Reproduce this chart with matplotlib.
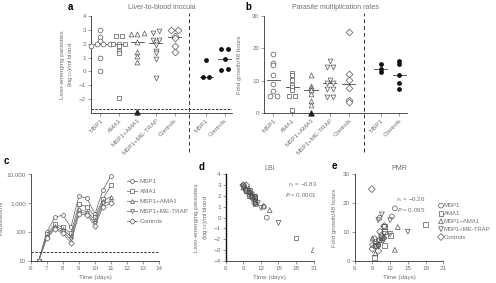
import numpy as np
import matplotlib
matplotlib.use('Agg')
import matplotlib.pyplot as plt

# ---- data -------------------------------------------------------------
groups = ['MSP1', 'AMA1', 'MSP1+AMA1', 'MSP1+ME-TRAP', 'Controls']
inf_groups = ['MSP1', 'Controls']
markers = ['o', 's', '^', 'v', 'D']

# panel a: liver-to-blood inocula (log10 parasites/ml)
lbi = [
    [3.0, 2.45, 2.2, 2.0, 2.0, 1.95, 1.85, 1.0, 0.0],
    [2.55, 2.55, 2.0, 2.0, 1.95, 1.8, 1.5, 1.3, -1.9],
    [2.8, 2.7, 2.7, 2.1, 1.4, 1.1, 0.7],
    [2.9, 2.8, 2.3, 2.3, 2.15, 1.9, 1.5, 1.35, 0.9, -0.5],
    [3.0, 3.0, 2.55, 2.4, 1.85, 1.4],
]
lbi_below = [[], [], [-2.95], [], []]   # below detection limit
lbi_inf = [[0.8, -0.4, -0.4], [1.65, 1.65, 0.9, 0.2, 0.1]]
lbi_limit = -2.7

# panel b: parasite multiplication rates (fold growth / 48 h)
pmr = [
    [18.2, 15.4, 14.9, 11.8, 8.9, 6.7, 5.4, 5.4],
    [12.5, 11.8, 10.3, 8.7, 8.0, 7.2, 5.4, 5.4, 1.0],
    [11.7, 8.4, 7.7, 7.2, 5.9, 3.8, 2.5],
    [16.1, 14.1, 14.1, 10.1, 9.3, 9.3, 7.4, 7.4, 4.9, 4.9],
    [24.9, 12.1, 10.1, 7.6, 4.1, 3.4],
]
pmr_below = [[], [], [0.0], [], []]
pmr_inf = [[15.2, 13.7, 12.8], [16.1, 15.1, 11.7, 9.2, 7.4]]

# panel c: mean parasitaemia by group
days = [6.5, 7, 7.5, 8, 8.5, 9, 9.5, 10, 10.5, 11]
para = [
    [10, 100, 320, 390, 145, 1800, 1500, 420, 3000, 8900],
    [10, 85, 185, 145, 90, 920, 760, 340, 1400, 4400],
    [10, 75, 155, 125, 70, 610, 510, 260, 1200, 1700],
    [10, 65, 135, 105, 55, 470, 450, 200, 1000, 1150],
    [10, 60, 125, 90, 42, 410, 390, 160, 760, 1000],
]
para_limit = 20

# panel d: time to diagnosis vs LBI
lbi_days = [
    [9.0, 9.5, 10.0, 10.5, 10.5, 11.0, 11.0, 12.5, 13.0],
    [9.5, 10.0, 10.0, 10.5, 10.5, 11.0, 11.0, 11.0, 18.0],
    [9.0, 9.5, 10.0, 10.5, 11.0, 12.5, 13.5],
    [9.0, 9.0, 10.0, 10.0, 10.5, 11.0, 11.0, 11.5, 12.0, 15.0],
    [9.0, 9.5, 9.5, 10.0, 10.5, 11.0],
]
lbi_below_days = [[], [], [21.0], [], []]
lbi_below_val = -3.0

# panel e: time to diagnosis vs PMR
pmr_days = [
    [12.8, 12.3, 10.2, 11.0, 10.5, 9.5, 9.0, 10.0],
    [18.0, 11.0, 11.0, 12.0, 10.5, 10.0, 9.5, 11.0, 9.3],
    [13.3, 11.0, 9.0, 10.5, 10.0, 12.8, 9.5],
    [10.6, 10.0, 12.0, 15.0, 11.0, 12.0, 10.5, 11.0, 9.5, 10.0],
    [8.9, 11.0, 10.3, 9.4, 9.0, 10.0],
]

# ---- style ------------------------------------------------------------
TXT = '#707070'
EDGE = '#555555'
MS = 12
plt.rcParams['font.family'] = ['Liberation Sans', 'DejaVu Sans']
plt.rcParams['font.size'] = 4.5
plt.rcParams['axes.linewidth'] = 0.6
plt.rcParams['axes.edgecolor'] = '#333333'


def style(ax):
    for s in ('top', 'right'):
        ax.spines[s].set_visible(False)
    ax.tick_params(length=2, width=0.5, labelsize=4.5, colors=TXT, pad=1.5)
    ax.tick_params(axis='both', which='minor', length=0)
    for lbl in ax.get_xticklabels() + ax.get_yticklabels():
        lbl.set_color(TXT)


def spread(vals, tol, step):
    vals = np.asarray(vals, dtype=float)
    order = np.argsort(vals)
    off = np.zeros(len(vals))
    i = 0
    while i < len(order):
        j = i
        while j + 1 < len(order) and vals[order[j + 1]] - vals[order[j]] < tol:
            j += 1
        n = j - i + 1
        off[order[i:j + 1]] = (np.arange(n) - (n - 1) / 2) * step
        i = j + 1
    return off


def dot_panel(ax, data, below, inf, tol):
    pos = [0, 1, 2, 3, 4]
    inf_pos = [5.7, 6.7]
    for k, vals in enumerate(data):
        x = pos[k] + spread(vals, tol, 0.34)
        ax.scatter(x, vals, marker=markers[k], s=MS, facecolors='white',
                   edgecolors=EDGE, linewidths=0.5, zorder=3, clip_on=False)
        if below[k]:
            ax.scatter([pos[k]] * len(below[k]), below[k], marker=markers[k], s=MS,
                       color='#222222', zorder=3, clip_on=False)
        med = np.median(vals)
        ax.plot([pos[k] - 0.35, pos[k] + 0.35], [med, med], color='#444444', lw=0.6, zorder=2)
    for k, vals in enumerate(inf):
        x = inf_pos[k] + spread(vals, tol, 0.34)
        ax.scatter(x, vals, marker='o', s=6, color='#111111', zorder=3)
        med = np.median(vals)
        ax.plot([inf_pos[k] - 0.35, inf_pos[k] + 0.35], [med, med], color='#444444', lw=0.6, zorder=2)
    ax.set_xlim(-0.5, 7.1)
    ax.set_xticks(pos + inf_pos)
    ax.set_xticklabels(groups + inf_groups, rotation=45, ha='right', rotation_mode='anchor')
    ax.axvline(4.8, ymin=-0.4, ymax=1.03, color='#333333', lw=0.7, ls=(0, (4, 3)), clip_on=False)


fig = plt.figure(figsize=(4.96, 2.83), dpi=100)

# ---- a ----------------------------------------------------------------
ax = fig.add_axes([0.1835, 0.6007, 0.2843, 0.3428])
dot_panel(ax, lbi, lbi_below, lbi_inf, 0.12)
ax.set_ylim(-3, 4)
ax.set_yticks(range(-2, 5))
ax.axhline(lbi_limit, color='#333333', lw=0.7, ls=(0, (2.5, 1.5)))
ax.set_ylabel('Liver-emerging parasites\n(log$_{10}$)/ml blood', color=TXT, fontsize=4.5, labelpad=3)
ax.set_title('Liver-to-blood inocula', color=TXT, fontsize=5, pad=5)
style(ax)
fig.text(68 / 496, 1 - 10 / 283, 'a', fontsize=7, fontweight='bold')

# ---- b ----------------------------------------------------------------
ax = fig.add_axes([0.5323, 0.6007, 0.2883, 0.3428])
dot_panel(ax, pmr, pmr_below, pmr_inf, 0.5)
ax.set_ylim(0, 30)
ax.set_yticks([0, 10, 20, 30])
ax.set_ylabel('Fold growth/48 hours', color=TXT, fontsize=4.5, labelpad=7)
ax.set_title('Parasite multiplication rates', color=TXT, fontsize=5, pad=5)
style(ax)
fig.text(245 / 496, 1 - 10 / 283, 'b', fontsize=7, fontweight='bold')

# ---- c ----------------------------------------------------------------
ax = fig.add_axes([0.0619, 0.0788, 0.2593, 0.3046])
for k, g in enumerate(groups):
    ax.plot(days, para[k], color='#777777', lw=0.6, marker=markers[k], ms=2.8,
            mfc='white', mec='#555555', mew=0.5, label=g)
ax.set_yscale('log')
ax.set_ylim(10, 10000)
ax.set_xlim(6, 14)
ax.set_xticks(range(6, 15))
ax.set_yticks([10, 100, 1000, 10000])
ax.set_yticklabels(['10', '100', '1,000', '10,000'])
ax.axhline(para_limit, color='#333333', lw=0.7, ls=(0, (2.5, 1.5)))
ax.set_ylabel('Parasites/ml', color=TXT, fontsize=4.5, labelpad=2)
ax.set_xlabel('Time (days)', color=TXT, fontsize=4.5, labelpad=3)
style(ax)
leg = ax.legend(loc='upper left', bbox_to_anchor=(0.73, 0.98), frameon=False, fontsize=4.5,
                handlelength=1.6, handletextpad=0.4, labelspacing=0.75, borderaxespad=0)
for t in leg.get_texts():
    t.set_color(TXT)
fig.text(4 / 496, 1 - 164 / 283, 'c', fontsize=7, fontweight='bold')

# ---- d ----------------------------------------------------------------
ax = fig.add_axes([0.4550, 0.0788, 0.1774, 0.3046])
for k, g in enumerate(groups):
    ax.scatter(lbi_days[k], lbi[k], marker=markers[k], s=MS, facecolors='none',
               edgecolors=EDGE, linewidths=0.5)
    if lbi_below_days[k]:
        ax.scatter(lbi_below_days[k], [lbi_below_val] * len(lbi_below_days[k]),
                   marker=markers[k], s=MS, facecolors='none', edgecolors=EDGE, linewidths=0.5)
ax.set_xlim(6, 21)
ax.set_ylim(-4, 4)
ax.set_xticks(range(6, 22, 3))
ax.set_yticks(range(-4, 5))
ax.spines['left'].set_linewidth(1.0)
ax.spines['left'].set_color('#111111')
ax.set_ylabel('Liver-emerging parasites\n(log$_{10}$)/ml blood', color=TXT, fontsize=4.5, labelpad=3)
ax.set_xlabel('Time (days)', color=TXT, fontsize=4.5, labelpad=3)
ax.set_title('LBI', color=TXT, fontsize=5, pad=3)
ax.text(1.04, 0.93, '$r_s$ = \u22120.83\n$P$ < 0.0001', transform=ax.transAxes, ha='right',
        va='top', fontsize=4.5, color=TXT, linespacing=1.3)
style(ax)
fig.text(199 / 496, 1 - 170 / 283, 'd', fontsize=7, fontweight='bold')

# ---- e ----------------------------------------------------------------
ax = fig.add_axes([0.7151, 0.0788, 0.1786, 0.3046])
for k, g in enumerate(groups):
    ax.scatter(pmr_days[k], pmr[k], marker=markers[k], s=MS, facecolors='none',
               edgecolors=EDGE, linewidths=0.5, label=g)
ax.set_xlim(6, 21)
ax.set_ylim(0, 30)
ax.set_xticks(range(6, 22, 3))
ax.set_yticks([0, 10, 20, 30])
ax.set_ylabel('Fold growth/48 hours', color=TXT, fontsize=4.5, labelpad=4)
ax.set_xlabel('Time (days)', color=TXT, fontsize=4.5, labelpad=3)
ax.set_title('PMR', color=TXT, fontsize=5, pad=3)
ax.text(0.8, 0.76, '$r_s$ = \u22120.26\n$P$ = 0.095', transform=ax.transAxes, ha='right',
        va='top', fontsize=4.5, color=TXT, linespacing=1.3)
style(ax)
leg = ax.legend(loc='upper left', bbox_to_anchor=(0.94, 0.67), frameon=False, fontsize=4.3,
                handletextpad=0.0, labelspacing=0.45, borderaxespad=0, handlelength=1.0,
                borderpad=0)
for t in leg.get_texts():
    t.set_color(TXT)
fig.text(332 / 496, 1 - 169 / 283, 'e', fontsize=7, fontweight='bold')

fig.savefig('out.png', dpi=100)
